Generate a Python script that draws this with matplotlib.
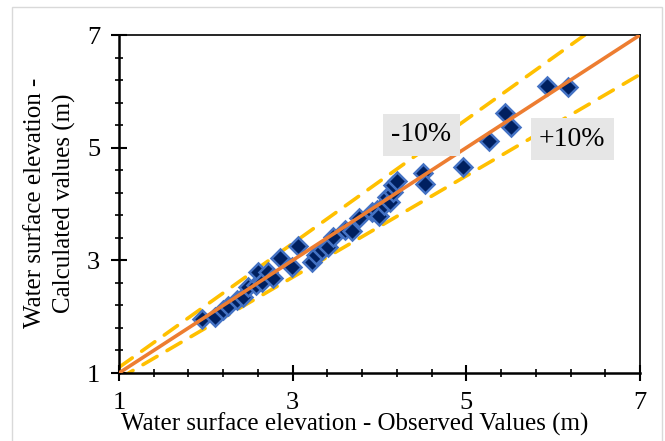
import numpy as np
import matplotlib
matplotlib.use("Agg")
from matplotlib import pyplot as plt
from matplotlib.patches import Rectangle
from matplotlib.ticker import FixedLocator

# observed vs calculated water surface elevation (m)
observed = [1.96, 2.11, 2.20, 2.26, 2.36, 2.43, 2.49, 2.58, 2.60, 2.65,
            2.72, 2.77, 2.85, 2.99, 3.06, 3.22, 3.27, 3.34, 3.41, 3.46,
            3.60, 3.68, 3.76, 3.91, 3.97, 3.99, 4.05, 4.09, 4.12, 4.16,
            4.16, 4.20, 4.50, 4.52, 4.96, 5.26, 5.45, 5.51, 5.93, 6.17]
calculated = [1.96, 1.99, 2.12, 2.19, 2.30, 2.35, 2.53, 2.56, 2.79, 2.62,
              2.79, 2.69, 3.04, 2.88, 3.25, 2.97, 3.09, 3.18, 3.24, 3.41,
              3.54, 3.52, 3.75, 3.86, 3.89, 3.79, 3.98, 4.12, 4.04, 4.21,
              4.34, 4.41, 4.55, 4.36, 4.66, 5.12, 5.62, 5.37, 6.09, 6.08]
ref_line = [1, 7]
major_ticks = [1, 3, 5, 7]
upper_factor = 1.1
lower_factor = 0.9

plt.rcParams['font.family'] = ['Liberation Serif', 'DejaVu Serif']

fig = plt.figure(figsize=(6.65, 4.41), dpi=100)
ax = fig.add_axes([119 / 665, 1 - 373 / 441, 521 / 665, 338 / 441])

# light gray chart-area border
fig.patches.append(Rectangle((12 / 665, -0.05), 650 / 665, 1 - 7 / 441 + 0.05,
                             transform=fig.transFigure, fill=False,
                             edgecolor="#D9D9D9", linewidth=1.0, clip_on=False))

ref = np.array(ref_line, dtype=float)
dash_style = dict(color="#FFC000", linewidth=2.6, linestyle=(0, (4.5, 3.2)),
                  dash_capstyle="round", zorder=2)
ax.plot(ref, ref * upper_factor, **dash_style)
ax.plot(ref, ref * lower_factor, **dash_style)
ax.plot(ref, ref, color="#ED7D31", linewidth=2.6, zorder=4)

ax.plot(observed, calculated, linestyle="none", marker="D", markersize=9.3,
        markerfacecolor="#002060", markeredgecolor="#4472C4",
        markeredgewidth=1.8, zorder=3)

minor_ticks = [1 + 0.4 * k for k in range(16)]
ax.set_xlim(1, 7)
ax.set_ylim(1, 7)
ax.set_xticks(major_ticks)
ax.set_yticks(major_ticks)
ax.xaxis.set_minor_locator(FixedLocator(minor_ticks))
ax.yaxis.set_minor_locator(FixedLocator(minor_ticks))
ax.tick_params(which="major", direction="inout", length=11, width=1.5,
               labelsize=19, colors="black")
ax.tick_params(which="minor", direction="inout", length=6, width=1.2)
ax.tick_params(axis="x", which="major", pad=8)
ax.tick_params(axis="y", which="major", pad=8)
for side in ["left", "bottom"]:
    ax.spines[side].set_linewidth(1.8)
for side in ["top", "right"]:
    ax.spines[side].set_linewidth(1.2)

box = dict(boxstyle="square,pad=0.3", facecolor="#E6E6E6", edgecolor="none")
ax.text(4.48, 5.23, "-10%", fontsize=20, ha="center", va="center", bbox=box, zorder=5)
ax.text(6.22, 5.15, "+10%", fontsize=20, ha="center", va="center", bbox=box, zorder=5)

fig.text(355 / 665, 1 - 424 / 441, "Water surface elevation - Observed Values (m)",
         fontsize=18, ha="center", va="center")
fig.text(50 / 665, 1 - 203 / 441, "Water surface elevation -\nCalculated values (m)",
         fontsize=18, ha="center", va="center", rotation=90,
         multialignment="center", linespacing=1.4)

fig.savefig("out.png", dpi=100)
